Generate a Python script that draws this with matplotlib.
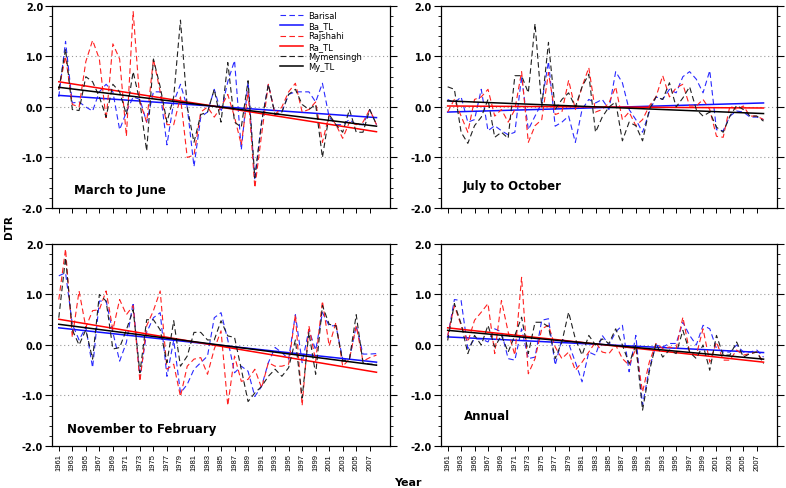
import numpy as np
import matplotlib
matplotlib.use("Agg")
import matplotlib.pyplot as plt
from matplotlib.ticker import MultipleLocator

years = np.arange(1961, 2009)
tick_years = np.arange(1961, 2008, 2)
panel_titles = ["March to June", "July to October", "November to February", "Annual"]
station_labels = ["Barisal", "Rajshahi", "Mymensingh"]
trend_labels = ["Ba_TL", "Ra_TL", "My_TL"]

# ---- March to June
mj_barisal = [0.2, 1.3, 0.08, 0.1, 0.0, -0.08, 0.3, 0.45, 0.3, -0.45, -0.1, 0.2, 0.15, -0.3, 0.3, 0.3,
              -0.75, 0.1, 0.45, 0.0, -1.18, -0.2, -0.1, 0.35, -0.1, 0.5, 0.92, -0.85, 0.5, -1.45, -0.3, 0.45,
              -0.15, -0.1, 0.25, 0.3, 0.3, 0.3, 0.1, 0.47, -0.2, -0.35, -0.35, -0.25, -0.35, -0.35, -0.05, -0.35]
mj_rajshahi = [0.35, 1.0, 0.05, 0.0, 0.9, 1.32, 0.95, -0.25, 1.25, 0.95, -0.58, 1.89, 0.1, -0.3, 0.95, 0.3,
               -0.35, -0.35, 0.2, -1.0, -0.95, -0.1, 0.0, -0.2, 0.0, 0.25, -0.2, -0.75, 0.3, -1.6, -0.55, 0.45,
               -0.15, 0.0, 0.3, 0.47, -0.1, -0.05, 0.1, -0.7, -0.15, -0.35, -0.62, -0.3, -0.35, -0.3, -0.05, -0.35]
mj_mymensingh = [0.34, 1.15, -0.05, -0.07, 0.6, 0.5, 0.2, -0.2, 0.45, 0.3, -0.15, 0.7, 0.1, -0.87, 0.95, 0.4,
                 -0.3, 0.2, 1.72, 0.0, -0.7, -0.15, -0.1, 0.35, -0.3, 0.88, -0.3, -0.4, 0.52, -1.4, -0.3, 0.45,
                 -0.15, -0.1, 0.25, 0.35, 0.05, -0.05, 0.05, -1.0, -0.15, -0.35, -0.5, -0.05, -0.5, -0.5, -0.05, -0.35]
mj_trend_start = [0.23, 0.5, 0.39]
mj_trend_end = [-0.21, -0.49, -0.38]

# ---- July to October
jo_barisal = [0.15, 0.08, 0.2, -0.3, -0.25, 0.35, -0.47, -0.37, -0.47, -0.55, -0.5, 0.6, -0.45, -0.18, 0.08, 0.9,
              -0.38, -0.3, -0.18, -0.7, -0.05, 0.15, 0.08, 0.15, -0.05, 0.7, 0.48, -0.05, -0.25, -0.5, -0.1, 0.2,
              0.15, 0.35, 0.28, 0.6, 0.7, 0.55, 0.28, 0.72, -0.45, -0.47, -0.18, -0.08, -0.1, -0.2, -0.2, -0.25]
jo_rajshahi = [-0.1, 0.15, -0.18, -0.5, 0.15, 0.2, 0.35, -0.18, -0.05, -0.3, -0.05, 0.7, -0.7, -0.37, -0.25, 0.68,
               -0.15, -0.1, 0.53, -0.05, 0.4, 0.78, -0.1, -0.05, 0.08, 0.4, -0.25, -0.1, -0.37, -0.25, 0.02, 0.2,
               0.62, 0.2, 0.38, 0.45, 0.02, 0.02, 0.15, -0.05, -0.58, -0.6, 0.02, -0.05, 0.02, -0.18, -0.18, -0.25]
jo_mymensingh = [0.4, 0.35, -0.5, -0.72, -0.37, -0.2, 0.15, -0.6, -0.5, -0.62, 0.62, 0.62, 0.28, 1.65, 0.0, 1.28,
                 -0.05, 0.15, 0.28, 0.0, 0.4, 0.65, -0.5, -0.2, 0.0, 0.1, -0.67, -0.3, -0.37, -0.67, -0.05, 0.2,
                 0.15, 0.48, 0.0, 0.18, 0.4, -0.05, -0.18, -0.1, -0.4, -0.5, -0.18, 0.03, -0.05, -0.18, -0.18, -0.28]
jo_trend_start = [-0.1, 0.02, 0.12]
jo_trend_end = [0.08, -0.02, -0.13]

# ---- November to February
nf_barisal = [1.37, 1.43, 0.41, 0.1, 0.35, -0.45, 0.87, 0.87, 0.25, -0.32, 0.05, 0.84, -0.65, 0.25, 0.54, 0.64,
              -0.62, 0.1, -0.95, -0.78, -0.48, -0.35, -0.22, 0.54, 0.64, 0.1, -0.55, -0.42, -0.52, -1.02, -0.82, -0.35,
              -0.05, -0.15, -0.28, 0.6, -0.35, 0.3, -0.1, 0.64, 0.38, 0.38, -0.28, -0.28, 0.38, -0.18, -0.18, -0.17]
nf_rajshahi = [0.9, 1.9, 0.15, 1.07, 0.35, 0.68, 0.7, 1.07, 0.3, 0.9, 0.6, 0.78, -0.72, 0.38, 0.68, 1.07,
               -0.48, -0.38, -1.02, -0.42, -0.28, -0.25, -0.58, -0.08, 0.28, -1.2, -0.22, -0.72, -0.68, -0.48, -0.85, -0.35,
               -0.42, -0.42, -0.38, 0.6, -1.2, 0.38, -0.32, 0.87, -0.02, 0.45, -0.42, -0.28, 0.38, -0.32, -0.25, -0.2]
nf_mymensingh = [0.54, 1.73, 0.3, 0.0, 0.3, -0.28, 1.0, 0.87, -0.08, -0.05, 0.3, 0.7, -0.55, 0.5, 0.5, 0.3,
                 -0.35, 0.48, -0.42, -0.22, 0.25, 0.25, 0.1, 0.1, 0.48, 0.18, 0.15, -0.48, -1.12, -0.95, -0.82, -0.62,
                 -0.48, -0.62, -0.45, 0.1, -1.05, 0.25, -0.58, 0.78, 0.41, 0.38, -0.32, -0.28, 0.6, -0.35, -0.38, -0.38]
nf_trend_start = [0.34, 0.51, 0.41]
nf_trend_end = [-0.34, -0.54, -0.4]

# ---- Annual
an_barisal = [0.16, 0.9, 0.88, -0.07, 0.12, 0.12, 0.06, 0.32, 0.26, -0.27, -0.3, 0.32, -0.27, -0.24, 0.49, 0.52,
              -0.4, 0.12, 0.03, -0.34, -0.73, -0.14, -0.2, 0.19, 0.0, 0.26, 0.39, -0.53, 0.19, -1.19, -0.47, 0.0,
              -0.04, 0.03, 0.03, 0.45, 0.19, 0.0, 0.39, 0.32, -0.07, -0.14, -0.14, 0.0, -0.14, -0.14, -0.1, -0.24]
an_rajshahi = [0.19, 0.78, 0.39, 0.06, 0.49, 0.65, 0.82, -0.17, 0.88, 0.26, -0.2, 1.34, -0.57, -0.27, 0.32, 0.39,
               -0.04, -0.27, -0.14, -0.5, -0.34, -0.14, 0.06, -0.14, -0.17, 0.0, -0.27, -0.4, -0.07, -0.93, -0.34, 0.03,
               -0.07, -0.04, -0.07, 0.55, -0.14, -0.2, 0.32, -0.34, 0.06, -0.3, -0.3, -0.1, -0.2, -0.17, -0.14, -0.34]
an_mymensingh = [0.09, 0.82, 0.42, -0.17, 0.19, 0.0, 0.39, -0.04, 0.19, -0.14, 0.19, 0.55, -0.17, 0.45, 0.45, 0.36,
                 -0.27, 0.06, 0.65, 0.12, -0.2, 0.19, 0.0, 0.12, 0.03, 0.32, 0.0, -0.37, 0.0, -1.29, -0.53, 0.03,
                 -0.24, -0.1, -0.17, 0.29, -0.14, -0.27, 0.0, -0.5, 0.19, -0.2, -0.2, 0.06, -0.24, -0.17, -0.14, -0.37]
an_trend_start = [0.16, 0.34, 0.29]
an_trend_end = [-0.15, -0.34, -0.28]

panels = [
    ([mj_barisal, mj_rajshahi, mj_mymensingh], mj_trend_start, mj_trend_end),
    ([jo_barisal, jo_rajshahi, jo_mymensingh], jo_trend_start, jo_trend_end),
    ([nf_barisal, nf_rajshahi, nf_mymensingh], nf_trend_start, nf_trend_end),
    ([an_barisal, an_rajshahi, an_mymensingh], an_trend_start, an_trend_end),
]

colors = ["#2a2aff", "#ff2020", "#202020"]
trend_colors = ["#1010ff", "#ff0000", "#000000"]

fig = plt.figure(figsize=(7.86, 4.89), dpi=100)
positions = [
    [0.0662, 0.5726, 0.430, 0.4131],
    [0.5610, 0.5726, 0.4275, 0.4131],
    [0.0662, 0.0859, 0.430, 0.4131],
    [0.5610, 0.0859, 0.4275, 0.4131],
]
title_pos = [(0.065, 0.094), (0.065, 0.113), (0.044, 0.089), (0.068, 0.153)]

for k, (series, tstart, tend) in enumerate(panels):
    ax = fig.add_axes(positions[k])
    for y in (-1.0, 0.0, 1.0):
        ax.axhline(y, color="#999999", lw=0.8, ls=(0, (1, 2.5)), zorder=0)
    handles = []
    for j in range(3):
        h1, = ax.plot(years, series[j], color=colors[j], lw=0.8, ls=(0, (5, 3)),
                      label=station_labels[j])
        h2, = ax.plot([years[0], years[-1]], [tstart[j], tend[j]], color=trend_colors[j],
                      lw=1.1, label=trend_labels[j])
        handles += [h1, h2]
    ax.set_xlim(1960, 2010)
    ax.set_ylim(-2, 2)
    ax.set_yticks([-2, -1, 0, 1, 2])
    ax.set_yticklabels(["-2.0", "-1.0", "0.0", "1.0", "2.0"], fontsize=7, fontweight="bold")
    ax.yaxis.set_minor_locator(MultipleLocator(0.2))
    ax.tick_params(axis="y", which="both", direction="out", left=True, right=True)
    ax.tick_params(axis="y", which="major", length=5, width=0.8, pad=1.5)
    ax.tick_params(axis="y", which="minor", length=2.5, width=0.6)
    ax.set_xticks(tick_years)
    ax.tick_params(axis="x", direction="out", length=3.5, width=0.7, pad=1.5)
    if k >= 2:
        ax.set_xticklabels([str(y) for y in tick_years], rotation=90, fontsize=5.5,
                           family="Liberation Sans")
    else:
        ax.set_xticklabels([])
    for s in ax.spines.values():
        s.set_linewidth(0.9)
    ax.text(title_pos[k][0], title_pos[k][1], panel_titles[k], transform=ax.transAxes,
            fontsize=8.5, fontweight="bold", va="center", ha="left")
    if k == 0:
        ax.legend(handles=handles, loc="upper left", bbox_to_anchor=(0.66, 1.0), frameon=False,
                  fontsize=6, handlelength=2.8, labelspacing=0.15, borderaxespad=0.2,
                  handletextpad=0.6)

fig.text(0.011, 0.536, "DTR", fontsize=7.5, fontweight="bold", ha="center", va="center",
         rotation=90)
fig.text(0.519, 0.012, "Year", fontsize=8, fontweight="bold", ha="center", va="center")

fig.savefig("out.png", dpi=100)
